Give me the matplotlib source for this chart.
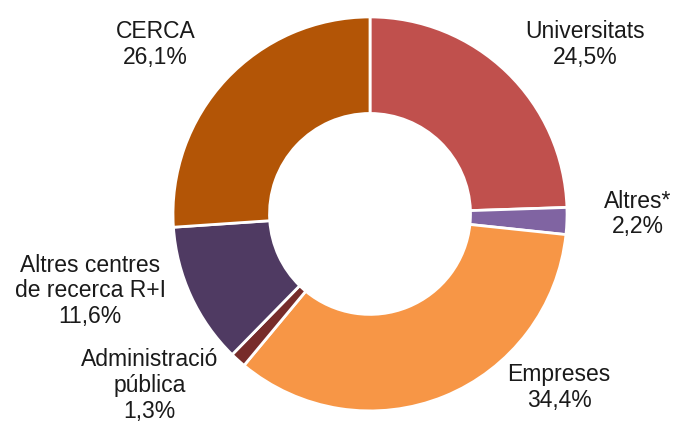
import matplotlib.pyplot as plt

labels = ["Universitats", "Altres*", "Empreses", "Administració\npública",
          "Altres centres\nde recerca R+I", "CERCA"]
values = [24.5, 2.2, 34.4, 1.3, 11.6, 26.1]
colors = ["#C0504D", "#8064A2", "#F79646", "#772C2A", "#4F3A62", "#B35506"]

# label anchor points (data units, pie radius = 1)
label_pos = [(1.09, 0.86), (1.36, 0.0), (0.96, -0.88), (-1.12, -0.87),
             (-1.42, -0.39), (-1.09, 0.86)]

plt.rcParams['font.family'] = ['Liberation Sans', 'DejaVu Sans']

fig = plt.figure(figsize=(6.75, 4.32), dpi=100)
ax = fig.add_axes([0, 0, 1, 1])

ax.pie(values, colors=colors, startangle=90, counterclock=False,
       radius=1.0, wedgeprops=dict(width=0.49, edgecolor='white', linewidth=2))

for lab, v, (x, y) in zip(labels, values, label_pos):
    txt = lab + "\n" + f"{v:.1f}".replace(".", ",") + "%"
    ax.text(x, y, txt, ha='center', va='center', fontsize=16.5,
            color='#1a1a1a', linespacing=1.15)

ax.set_xlim(-1.878, 1.548)
ax.set_ylim(-1.107, 1.086)
ax.set_aspect('auto')
ax.axis('off')

fig.savefig("out.png", dpi=100)
